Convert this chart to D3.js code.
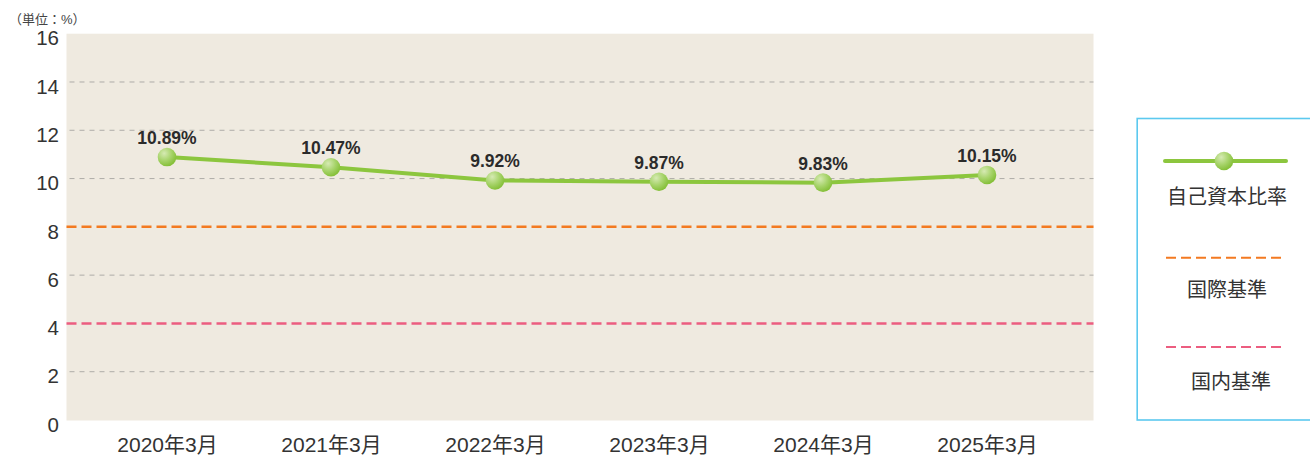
<!DOCTYPE html>
<html><head><meta charset="utf-8">
<script src="https://cdn.jsdelivr.net/npm/d3@7"></script>
<style>
html,body{margin:0;padding:0;background:#fff;}
svg{display:block;}
</style></head>
<body>
<svg id="c" width="1310" height="456"></svg>
<script>
const categories = ["2020年3月","2021年3月","2022年3月","2023年3月","2024年3月","2025年3月"];
const ratioValues = [10.89, 10.47, 9.92, 9.87, 9.83, 10.15];
const ratioLabels = ["10.89%","10.47%","9.92%","9.87%","9.83%","10.15%"];
const internationalStd = 8;
const domesticStd = 4;
const yTicks = [0,2,4,6,8,10,12,14,16];
const legendLabels = ["自己資本比率","国際基準","国内基準"];
const unitLabel = "（単位：%）";

const svg = d3.select("#c");
const plot = {left:66.5, right:1093.5, top:33.7, bottom:420.5};
const latin = "'Liberation Sans', Arial, 'Noto Sans CJK JP', sans-serif";

const x = d3.scalePoint().domain(categories).range([167, 987]);
const y = d3.scaleLinear().domain([0,16]).range([420, 33.7]);

const defs = svg.append("defs");
const g = defs.append("radialGradient").attr("id","ball").attr("cx","35%").attr("cy","30%").attr("r","70%");
g.append("stop").attr("offset","0%").attr("stop-color","#d6eab3");
g.append("stop").attr("offset","55%").attr("stop-color","#a8d46c");
g.append("stop").attr("offset","100%").attr("stop-color","#86c03a");

// plot background
svg.append("rect").attr("x",plot.left).attr("y",plot.top)
  .attr("width",plot.right-plot.left).attr("height",plot.bottom-plot.top)
  .attr("fill","#efeae0");

// gridlines
svg.append("g").selectAll("line")
  .data(yTicks.filter(d => d>0 && d<16 && d!==internationalStd && d!==domesticStd))
  .join("line")
  .attr("x1",plot.left+3).attr("x2",plot.right)
  .attr("y1",d=>y(d)).attr("y2",d=>y(d))
  .attr("stroke","#aeaca8").attr("stroke-width",1).attr("stroke-dasharray","5,5");

// standards
svg.append("line").attr("x1",plot.left).attr("x2",plot.right)
  .attr("y1",y(internationalStd)).attr("y2",y(internationalStd))
  .attr("stroke","#f37a21").attr("stroke-width",2.5).attr("stroke-dasharray","10,5");
svg.append("line").attr("x1",plot.left).attr("x2",plot.right)
  .attr("y1",y(domesticStd)).attr("y2",y(domesticStd))
  .attr("stroke","#ec5d80").attr("stroke-width",2.5).attr("stroke-dasharray","10,5");

// y axis labels
const yAxis = d3.axisLeft(y).tickValues(yTicks).tickSize(0).tickPadding(0);
const ya = svg.append("g").attr("transform",`translate(59,0)`).call(yAxis);
ya.select(".domain").remove();
ya.selectAll("text").attr("font-family",latin).attr("font-size",20.5).attr("fill","#333").attr("dy","0.55em");

// x axis labels
const xAxis = d3.axisBottom(x).tickSize(0).tickPadding(0);
const xa = svg.append("g").attr("transform",`translate(0,437)`).call(xAxis);
xa.select(".domain").remove();
xa.selectAll("text").attr("font-family",latin).attr("font-size",21).attr("fill","#333").attr("dy","0.7em");

// unit
svg.append("text").attr("x",9).attr("y",24).attr("font-family",latin).attr("font-size",13).attr("fill","#444").text(unitLabel);

// series line
const data = categories.map((c,i)=>({c, v:ratioValues[i], l:ratioLabels[i]}));
svg.append("path").datum(data)
  .attr("d", d3.line().x(d=>x(d.c)).y(d=>y(d.v)))
  .attr("fill","none").attr("stroke","#8cc63e").attr("stroke-width",4);

svg.append("g").selectAll("circle").data(data).join("circle")
  .attr("cx",d=>x(d.c)).attr("cy",d=>y(d.v)).attr("r",9.3).attr("fill","url(#ball)");

svg.append("g").selectAll("text").data(data).join("text")
  .attr("x",d=>x(d.c)).attr("y",d=>y(d.v)-13)
  .attr("text-anchor","middle").attr("font-family",latin).attr("font-weight","bold")
  .attr("font-size",17.5).attr("fill","#2b2b2b").text(d=>d.l);

// legend
svg.append("rect").attr("x",1137.2).attr("y",118.5).attr("width",200).attr("height",301.5)
  .attr("fill","#fff").attr("stroke","#5cc9ef").attr("stroke-width",1.6);
svg.append("line").attr("x1",1165).attr("x2",1286).attr("y1",161).attr("y2",161)
  .attr("stroke","#8cc63e").attr("stroke-width",4).attr("stroke-linecap","round");
svg.append("circle").attr("cx",1224).attr("cy",161).attr("r",9.3).attr("fill","url(#ball)");
svg.append("line").attr("x1",1166).attr("x2",1286).attr("y1",257.7).attr("y2",257.7)
  .attr("stroke","#f37a21").attr("stroke-width",2).attr("stroke-dasharray","10,5");
svg.append("line").attr("x1",1166).attr("x2",1286).attr("y1",347).attr("y2",347)
  .attr("stroke","#ec5d80").attr("stroke-width",2).attr("stroke-dasharray","10,5");
const legY = [197, 290, 382];
const legX = [1227, 1227, 1231];
svg.append("g").selectAll("text").data(legendLabels).join("text")
  .attr("x",(d,i)=>legX[i]).attr("y",(d,i)=>legY[i]).attr("dy","0.36em")
  .attr("text-anchor","middle").attr("font-family","'Noto Sans CJK JP', sans-serif")
  .attr("font-size",20).attr("fill","#333").text(d=>d);
</script>
</body></html>
